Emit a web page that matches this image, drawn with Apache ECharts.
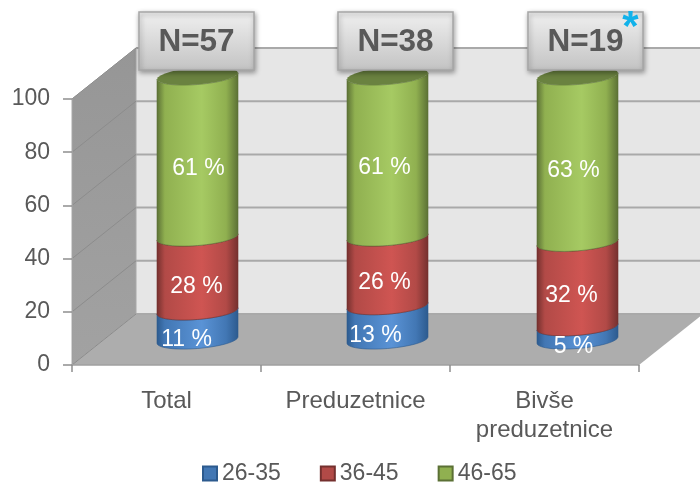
<!DOCTYPE html>
<html>
<head>
<meta charset="utf-8">
<style>html,body{margin:0;padding:0;background:#fff}#chart{width:700px;height:484px}</style>
<script src="https://cdn.jsdelivr.net/npm/echarts@6/dist/echarts.min.js"></script>
</head>
<body>
<div id="chart"></div>
<script>
// Age structure by group, percent of respondents
const categories = ['Total', 'Preduzetnice', 'Bivše\npreduzetnice'];
const sampleSizes = ['N=57', 'N=38', 'N=19'];
const ageGroups = ['26-35', '36-45', '46-65'];
const age26to35 = [11, 13, 5];
const age36to45 = [28, 26, 32];
const age46to65 = [61, 61, 63];
const yTicks = [0, 20, 40, 60, 80, 100];

// Oblique projection of the 3D box and the cylinder shape
const DEPTH_X = 64, DEPTH_Y = -51;
const BAR_SHIFT = 31, BAR_DRIFT = 1, BAR_HALF = 40.5, CAP_B = 8.5, CAP_TILT = 3.2;
const MID_Y = -25, MID_Y_PER_UNIT = 0.02;

const palettes = [
  { edge: '#2c5a8e', side: '#4277b4', mid: '#5a93d6', cap: '#3b6aa0' },
  { edge: '#74302e', side: '#b24a47', mid: '#cf5552', cap: '#8c3a38' },
  { edge: '#5b7035', side: '#90b050', mid: '#a6ca63', cap: '#6a8240' }
];
const stacks = [age26to35, age36to45, age46to65];

// Nudges that keep value labels readable, in px from the segment centre
const labelNudges = [
  [[-11, 14], [-1, 13], [1, 12]],
  [[-12, 13], [-3, 11], [-3, 11]],
  [[-4, 13], [-6, 11], [-4, 11]]
];
// The sample-size boxes sit slightly off the bar axis
const sampleBoxNudges = [-1, 8, 8];

function barCentre(api, idx) {
  return api.coord([idx, 0])[0] + BAR_SHIFT + BAR_DRIFT * idx;
}
function levelY(api, idx, v) {
  return api.coord([idx, v])[1] + MID_Y + MID_Y_PER_UNIT * v;
}
function arc(cx, cy, from, to) {
  const pts = [];
  const steps = 28;
  for (let i = 0; i <= steps; i++) {
    const t = from + (to - from) * i / steps;
    pts.push([cx + BAR_HALF * Math.cos(t), cy + CAP_B * Math.sin(t) - CAP_TILT * Math.cos(t)]);
  }
  return pts;
}
function sideGradient(p) {
  return new echarts.graphic.LinearGradient(0, 0, 1, 0, [
    { offset: 0, color: p.edge },
    { offset: 0.1, color: p.side },
    { offset: 0.55, color: p.mid },
    { offset: 0.85, color: p.side },
    { offset: 1, color: p.edge }
  ]);
}

function cumulative(s, idx) {
  let sum = 0;
  for (let k = 0; k < s; k++) sum += stacks[k][idx];
  return sum;
}

function renderSegment(s) {
  return function (params, api) {
    const idx = api.value(0);
    const start = cumulative(s, idx);
    const end = start + stacks[s][idx];
    const cx = barCentre(api, idx);
    const yLow = levelY(api, idx, start);
    const yHigh = levelY(api, idx, end);
    const pal = palettes[s];
    const front = arc(cx, yLow, Math.PI, 0).concat(arc(cx, yHigh, 0, Math.PI));
    const children = [{
      type: 'polygon',
      shape: { points: front },
      style: { fill: sideGradient(pal), stroke: pal.edge, lineWidth: 0.6 }
    }];
    if (s === stacks.length - 1) {
      children.push({
        type: 'polygon',
        shape: { points: arc(cx, yHigh, 0, Math.PI * 2) },
        style: { fill: pal.cap }
      });
    }
    return { type: 'group', children };
  };
}

function renderBox(params, api) {
  const cs = params.coordSys;
  const L = cs.x, R = cs.x + cs.width;
  const y0 = api.coord([0, 0])[1], y100 = api.coord([0, 100])[1];
  const kids = [
    { type: 'polygon', shape: { points: [[L + DEPTH_X, y100 + DEPTH_Y], [R + DEPTH_X, y100 + DEPTH_Y], [R + DEPTH_X, y0 + DEPTH_Y], [L + DEPTH_X, y0 + DEPTH_Y]] },
      style: { fill: '#e6e6e6' } },
    { type: 'polygon', shape: { points: [[L, y100], [L + DEPTH_X, y100 + DEPTH_Y], [L + DEPTH_X, y0 + DEPTH_Y], [L, y0]] },
      style: { fill: new echarts.graphic.LinearGradient(0, 0, 0, 1, [{ offset: 0, color: '#969696' }, { offset: 1, color: '#a2a2a2' }]), stroke: '#a8a8a8', lineWidth: 1 } },
    { type: 'polygon', shape: { points: [[L, y0], [L + DEPTH_X, y0 + DEPTH_Y], [R + DEPTH_X, y0 + DEPTH_Y], [R, y0]] },
      style: { fill: '#adadad' } }
  ];
  yTicks.forEach(function (v) {
    const y = api.coord([0, v])[1];
    kids.push({ type: 'line', shape: { x1: L, y1: y, x2: L + DEPTH_X, y2: y + DEPTH_Y }, style: { stroke: '#8c8c8c', lineWidth: 1 } });
    kids.push({ type: 'line', shape: { x1: L + DEPTH_X, y1: y + DEPTH_Y, x2: R + DEPTH_X, y2: y + DEPTH_Y }, style: { stroke: '#a9a9a9', lineWidth: 2 } });
  });
  return { type: 'group', children: kids };
}

function renderLabel(params, api) {
  const idx = api.value(0), s = api.value(1);
  const start = cumulative(s, idx);
  const v = stacks[s][idx];
  const nudge = labelNudges[idx][s];
  return {
    type: 'text',
    style: {
      x: barCentre(api, idx) + nudge[0],
      y: levelY(api, idx, start + v / 2) + nudge[1],
      text: v + ' %',
      fill: '#ffffff',
      font: '23px "Liberation Sans", Arial, sans-serif',
      align: 'center',
      verticalAlign: 'middle'
    }
  };
}

function renderSampleBox(params, api) {
  const idx = api.value(0);
  const cx = barCentre(api, idx) + sampleBoxNudges[idx];
  const y100 = api.coord([idx, 100])[1];
  const top = y100 - 87, h = 58, w = 115;
  const kids = [
    { type: 'rect', shape: { x: cx - w / 2, y: top, width: w, height: h },
      style: {
        fill: new echarts.graphic.LinearGradient(0, 0, 0, 1, [{ offset: 0, color: '#f0f0f0' }, { offset: 1, color: '#c3c3c3' }]),
        stroke: '#a6a6a6', lineWidth: 1.5,
        shadowBlur: 5, shadowOffsetX: 1, shadowOffsetY: 2, shadowColor: 'rgba(0,0,0,0.35)'
      } },
    { type: 'text', style: {
        x: cx, y: top + 30, text: sampleSizes[idx], fill: '#595959',
        font: 'bold 31.5px "Liberation Sans", Arial, sans-serif', align: 'center', verticalAlign: 'middle'
      } }
  ];
  if (idx === sampleSizes.length - 1) {
    kids.push({ type: 'text', style: {
      x: cx + 45, y: top - 5, text: '*', fill: '#12b2ea',
      font: 'bold 42px "Liberation Sans", Arial, sans-serif', align: 'center', verticalAlign: 'top'
    } });
  }
  return { type: 'group', children: kids };
}

const labelData = [];
categories.forEach(function (c, i) { stacks.forEach(function (st, s) { labelData.push([i, s]); }); });
const catIndex = categories.map(function (c, i) { return [i]; });

const series = [
  { type: 'custom', name: 'box', z: 1, silent: true, clip: false, renderItem: renderBox, data: [[0]] }
];
ageGroups.forEach(function (g, s) {
  series.push({
    type: 'custom', name: g, z: 3 + s, clip: false,
    itemStyle: { color: palettes[s].side, borderColor: palettes[s].edge, borderWidth: 1 },
    renderItem: renderSegment(s), data: catIndex
  });
});
series.push({ type: 'custom', name: 'values', z: 8, clip: false, renderItem: renderLabel, data: labelData });
series.push({ type: 'custom', name: 'samples', z: 9, clip: false, renderItem: renderSampleBox, data: catIndex });

const textFamily = '"Liberation Sans", Arial, sans-serif';

echarts.init(document.getElementById('chart'), null, { renderer: 'canvas' }).setOption({
  animation: false,
  backgroundColor: '#ffffff',
  grid: { left: 72, right: 61, top: 99, height: 266 },
  xAxis: {
    type: 'category',
    data: categories,
    axisLine: { lineStyle: { color: '#a0a0a0', width: 1.5 } },
    axisTick: { show: true, length: 7, alignWithLabel: false, lineStyle: { color: '#8f8f8f', width: 1.5 } },
    axisLabel: { color: '#595959', fontSize: 24, fontFamily: textFamily, margin: 22, lineHeight: 29, interval: 0 },
    z: 2
  },
  yAxis: {
    type: 'value', min: 0, max: 100, interval: 20,
    axisLine: { show: true, lineStyle: { color: '#a0a0a0', width: 1 } },
    axisTick: { show: true, length: 9, lineStyle: { color: '#8f8f8f', width: 1.5 } },
    axisLabel: { color: '#595959', fontSize: 23, fontFamily: textFamily, margin: 22, padding: [9, 0, 0, 0], verticalAlignMinLabel: 'middle', verticalAlignMaxLabel: 'middle' },
    splitLine: { show: false },
    z: 2
  },
  legend: {
    data: ageGroups,
    left: 202, top: 462, padding: 0,
    itemWidth: 14, itemHeight: 14, itemGap: 39,
    textStyle: { color: '#595959', fontSize: 23, fontFamily: textFamily },
    icon: 'rect',
    selectedMode: false
  },
  series: series
});
</script>
</body>
</html>
